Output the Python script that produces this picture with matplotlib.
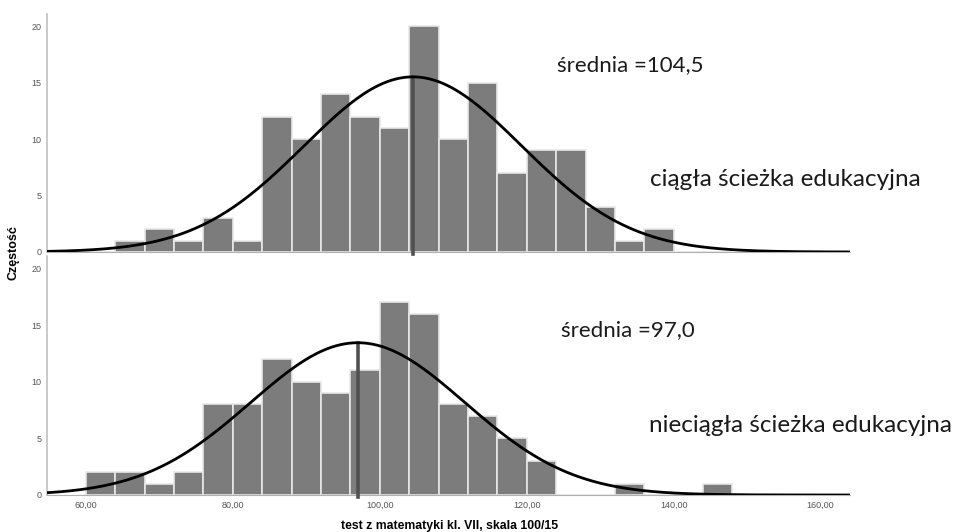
import numpy as np
import matplotlib
matplotlib.use("Agg")
import matplotlib.pyplot as plt

# histogram bins: width 4, starting at 60
bin_edges = np.arange(60, 152, 4)

# counts (bins 60-64 ... 144-148)
counts_top = [0, 1, 2, 1, 3, 1, 12, 10, 14, 12, 11, 20, 10, 15, 7, 9, 9, 4, 1, 2, 0, 0]
counts_bottom = [2, 2, 1, 2, 8, 8, 12, 10, 9, 11, 17, 16, 8, 7, 5, 3, 0, 0, 1, 0, 0, 1]

mean_top, sd_top = 104.5, 14.8
mean_bottom, sd_bottom = 97.0, 14.6

labels_mean = ["średnia =104,5", "średnia =97,0"]
labels_group = ["ciągła ścieżka edukacyjna", "nieciągła ścieżka edukacyjna"]

xticks = [60, 80, 100, 120, 140, 160]
yticks = [0, 5, 10, 15, 20]

W, H = 958, 532
fig = plt.figure(figsize=(W / 100, H / 100), dpi=100)

def px_axes(x0, y0, x1, y1):
    return fig.add_axes([x0 / W, 1 - y1 / H, (x1 - x0) / W, (y1 - y0) / H])

ax_top = px_axes(47, 14, 850, 252)
ax_bot = px_axes(47, 256, 850, 495)

bar_col = "#7c7c7c"
label_font = "Liberation Sans"
note_font = "Lato"

panels = [
    (ax_top, counts_top, mean_top, sd_top, 0),
    (ax_bot, counts_bottom, mean_bottom, sd_bottom, 1),
]

for ax, counts, mu, sd, i in panels:
    counts = np.asarray(counts)
    left = bin_edges[:len(counts)]
    ax.bar(left, counts, width=4, align="edge", color=bar_col,
           edgecolor="#e8e8e8", linewidth=1.2, zorder=2)

    # fitted normal curve
    n = counts.sum()
    xs = np.linspace(54.7, 164, 400)
    ys = n * 4 / (sd * np.sqrt(2 * np.pi)) * np.exp(-0.5 * ((xs - mu) / sd) ** 2)
    ax.plot(xs, ys, color="black", lw=2.0, zorder=4, solid_capstyle="butt")
    peak = n * 4 / (sd * np.sqrt(2 * np.pi))
    ax.plot([mu, mu], [-0.15, peak], color="#505050", lw=2.6, zorder=3,
            clip_on=False)

    ax.set_xlim(54.7, 164)
    ax.set_ylim(0, 21.1)
    ax.set_yticks(yticks)
    ax.set_yticklabels([str(v) for v in yticks], fontsize=6.5, color="#555555",
                       family=label_font)
    ax.tick_params(axis="y", length=0, pad=4)
    for s in ["top", "right"]:
        ax.spines[s].set_visible(False)
    ax.spines["left"].set_color("#c0c0c0")
    ax.spines["bottom"].set_color("#b0b0b0")
    ax.spines["left"].set_linewidth(1.2)

ax_top.set_xticks([])
ax_top.tick_params(axis="x", length=0)

ax_bot.set_xticks(xticks)
ax_bot.set_xticklabels([f"{v},00" for v in xticks], fontsize=6.5, color="#555555",
                       family=label_font)
ax_bot.tick_params(axis="x", length=0, pad=4)

# annotations placed in figure pixels
fig.text(557 / W, 1 - 65 / H, labels_mean[0], fontsize=16, family=note_font,
         ha="left", va="center", color="#1a1a1a")
fig.text(561 / W, 1 - 330 / H, labels_mean[1], fontsize=16, family=note_font,
         ha="left", va="center", color="#1a1a1a")
fig.text(650 / W, 1 - 180 / H, labels_group[0], fontsize=17.5, family=note_font,
         ha="left", va="center", color="#1a1a1a")
fig.text(649 / W, 1 - 425 / H, labels_group[1], fontsize=17.5, family=note_font,
         ha="left", va="center", color="#1a1a1a")

fig.text(450 / W, 1 - 526 / H, "test z matematyki kl. VII, skala 100/15",
         fontsize=8.8, fontweight="bold", family=label_font,
         ha="center", va="center")
fig.text(13 / W, 1 - 253 / H, "Częstość", fontsize=9, fontweight="bold",
         family=label_font, rotation=90, ha="center", va="center")

fig.savefig("out.png", dpi=100)
